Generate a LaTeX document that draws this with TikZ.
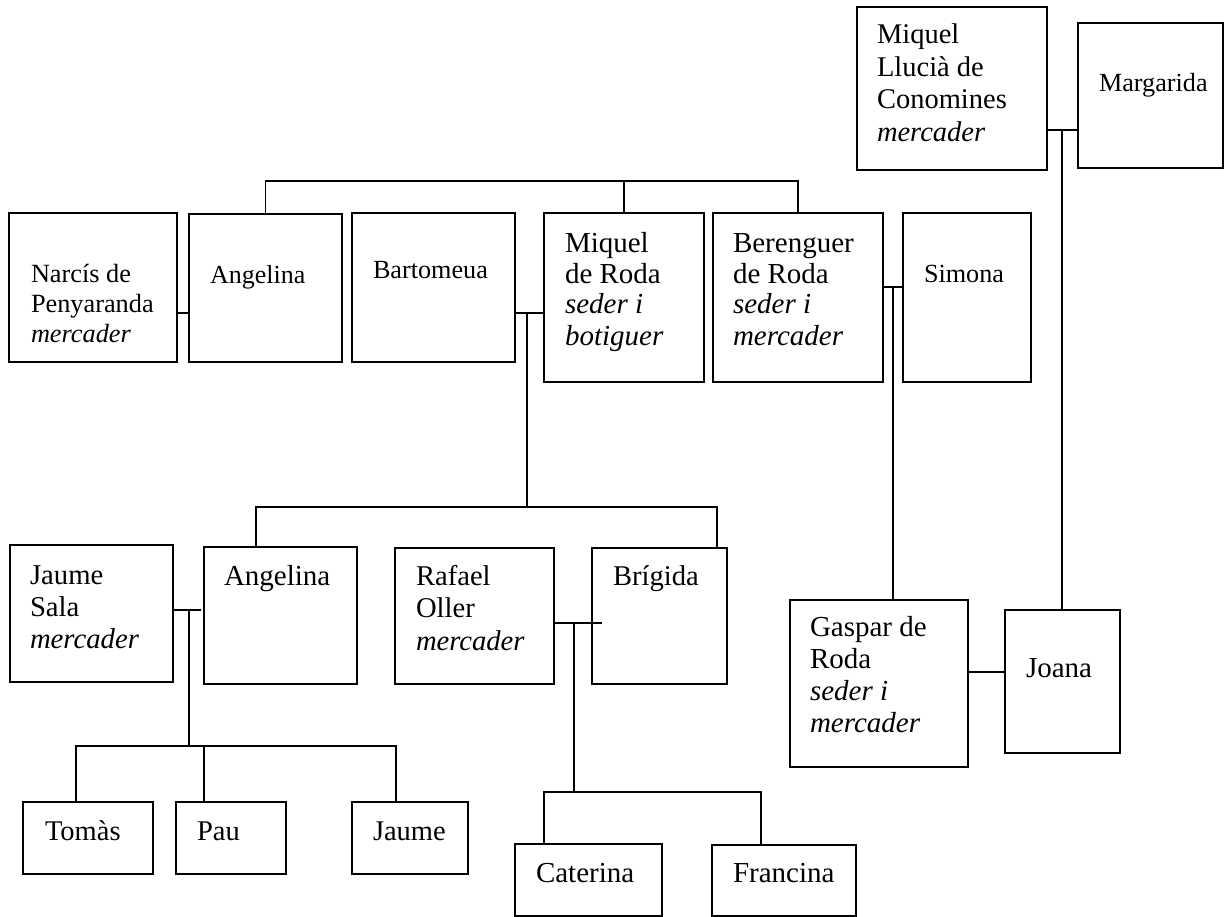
\documentclass[tikz,border=0pt]{standalone}
\usepackage{fontspec}
\setmainfont{Liberation Serif}
\tikzset{
  pbox/.style={draw, line width=1.8pt, rectangle, inner sep=0pt, outer sep=0pt},
  ptxt/.style={anchor=base west, inner sep=0pt, outer sep=0pt},
  conn/.style={line width=1.5pt},
}
\newcommand\PBox[5]{\node[pbox, minimum width={#4-#2}, minimum height={#5-#3}] (#1) at ({(#2+#4)/2},{(#3+#5)/2}) {};}
% name, x, baseline y, font size, line skip, text
\newcommand\PTxt[6]{\node[ptxt] (#1) at (#2,#3) {\parbox[t]{260pt}{\fontsize{#4}{#5}\selectfont #6}};}
\begin{document}
\begin{tikzpicture}[x=1pt,y=-1pt]
\useasboundingbox (0,0) rectangle (1225,917);
% top couple
\PBox{mll}{857}{7}{1047}{170}
\PTxt{mllT}{877}{44}{28.5}{32.5}{Miquel\\Llucià de\\Conomines\\\textit{mercader}}
\PBox{mar}{1078}{23}{1223}{168}
\PTxt{marT}{1099}{92}{26.2}{30}{Margarida}
% row 2
\PBox{nar}{9}{213}{177}{362}
\PTxt{narT}{31}{282}{26.3}{30}{Narcís de\\Penyaranda\\\textit{mercader}}
\PBox{angA}{189}{214}{342}{362}
\PTxt{angAT}{210}{283}{26}{30}{Angelina}
\PBox{bar}{352}{213}{515}{362}
\PTxt{barT}{373}{278}{26.2}{30}{Bartomeua}
\PBox{mdr}{544}{213}{704}{382}
\PTxt{mdrT}{565}{252}{29}{31}{Miquel\\de Roda\\\textit{seder i}\\\textit{botiguer}}
\PBox{ber}{713}{213}{883}{382}
\PTxt{berT}{733}{252}{29}{31}{Berenguer\\de Roda\\\textit{seder i}\\\textit{mercader}}
\PBox{sim}{903}{213}{1031}{382}
\PTxt{simT}{924}{282}{26.2}{30}{Simona}
% row 3
\PBox{js}{10}{545}{173}{682}
\PTxt{jsT}{30}{584}{28.7}{32}{Jaume\\Sala\\\textit{mercader}}
\PBox{angB}{204}{547}{357}{684}
\PTxt{angBT}{224}{585}{29}{32}{Angelina}
\PBox{raf}{395}{548}{554}{684}
\PTxt{rafT}{416}{585}{28.6}{32.5}{Rafael\\Oller\\\textit{mercader}}
\PBox{bri}{592}{548}{727}{684}
\PTxt{briT}{613}{585}{28.6}{32}{Brígida}
\PBox{gas}{790}{600}{968}{767}
\PTxt{gasT}{810}{636}{29}{32}{Gaspar de\\Roda\\\textit{seder i}\\\textit{mercader}}
\PBox{joa}{1005}{610}{1120}{753}
\PTxt{joaT}{1026}{677}{29}{32}{Joana}
% row 4
\PBox{tom}{23}{802}{153}{874}
\PTxt{tomT}{45}{840}{28.5}{32}{Tomàs}
\PBox{pau}{176}{802}{286}{874}
\PTxt{pauT}{197}{840}{28.5}{32}{Pau}
\PBox{jau}{352}{802}{468}{874}
\PTxt{jauT}{373}{840}{28.5}{32}{Jaume}
\PBox{cat}{515}{844}{662}{916}
\PTxt{catT}{536}{882}{29}{32}{Caterina}
\PBox{fra}{712}{845}{856}{916}
\PTxt{fraT}{733}{882}{29}{32}{Francina}
% junction coordinates
\coordinate (j1) at (1062,130);
\coordinate (b1) at (0,181);
\coordinate (j2) at (527,313);
\coordinate (j3) at (893,287);
\coordinate (j4) at (0,313);
\coordinate (b2L) at (256,507);
\coordinate (b2R) at (717,507);
\coordinate (j5) at (189,610);
\coordinate (j6) at (574,623);
\coordinate (j7) at (0,672);
\coordinate (b3L) at (76,746);
\coordinate (b3M) at (204,746);
\coordinate (b3R) at (396,746);
\coordinate (b4L) at (544,792);
\coordinate (b4R) at (761,792);
% connectors
\draw[conn] (mll.east |- j1) -- (mar.west |- j1);
\draw[conn] (j1) -- (j1 |- joa.north);
\draw[conn] (angA.north) -- (angA.north |- b1) -- (ber.north |- b1) -- (ber.north);
\draw[conn] (mdr.north) -- (mdr.north |- b1);
\draw[conn] (nar.east |- j4) -- (angA.west |- j4);
\draw[conn] (bar.east |- j2) -- (mdr.west |- j2);
\draw[conn] (j2) -- (j2 |- b2L);
\draw[conn] (ber.east |- j3) -- (sim.west |- j3);
\draw[conn] (j3) -- (j3 |- gas.north);
\draw[conn] (b2L |- angB.north) -- (b2L) -- (b2R) -- (b2R |- bri.north);
\draw[conn] (js.east |- j5) -- ([xshift=-3pt]angB.west |- j5);
\draw[conn] (j5) -- (j5 |- b3L);
\draw[conn] (raf.east |- j6) -- ([xshift=10pt]bri.west |- j6);
\draw[conn] (j6) -- (j6 |- b4L);
\draw[conn] (gas.east |- j7) -- (joa.west |- j7);
\draw[conn] (b3L |- tom.north) -- (b3L) -- (b3R) -- (b3R |- jau.north);
\draw[conn] (b3M) -- (b3M |- pau.north);
\draw[conn] (b4L |- cat.north) -- (b4L) -- (b4R) -- (b4R |- fra.north);
\end{tikzpicture}
\end{document}
